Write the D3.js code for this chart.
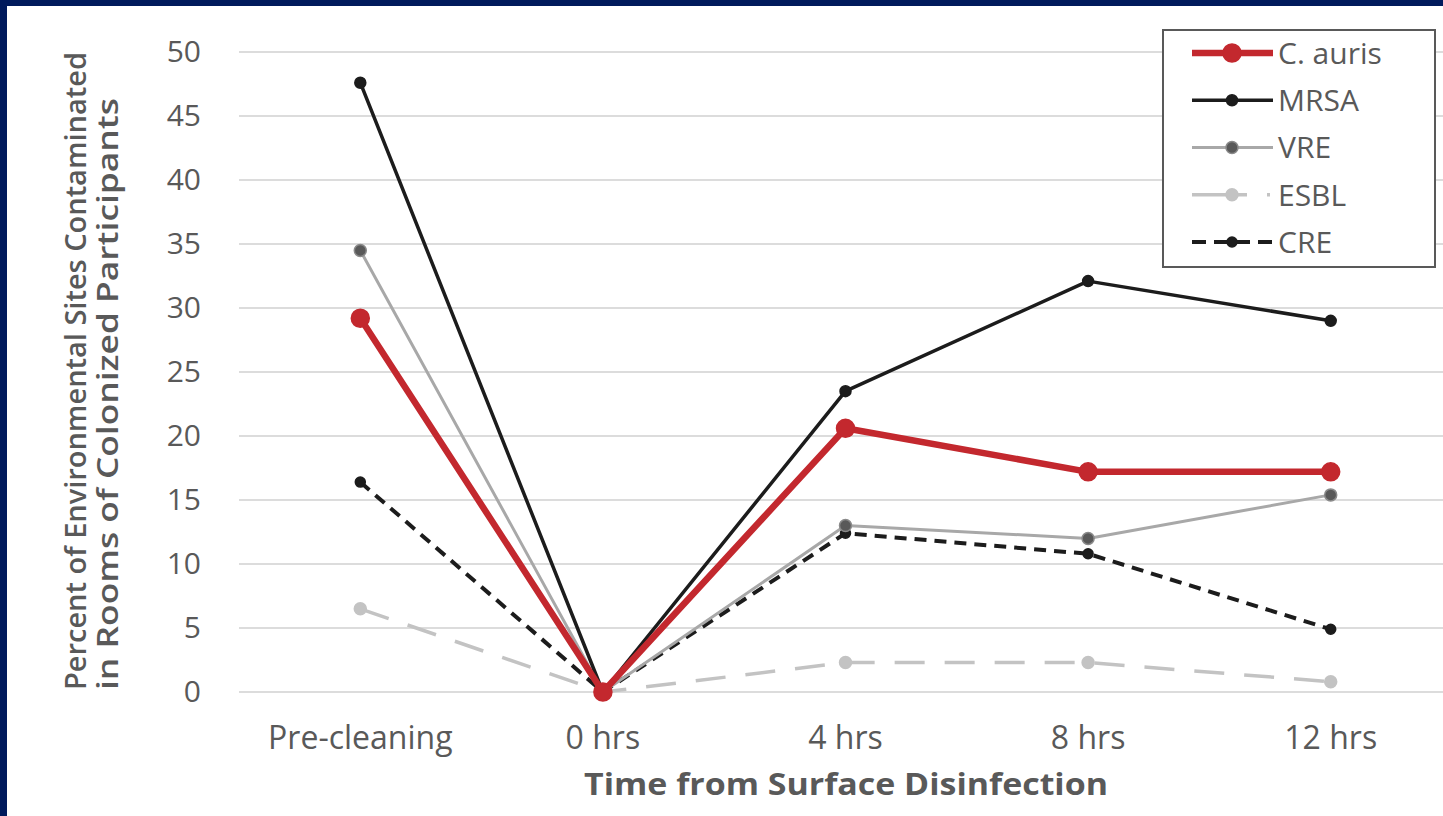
<!DOCTYPE html>
<html>
<head>
    <title>Environmental contamination after disinfection</title>
    <script src="https://d3js.org/d3.v7.min.js"></script>
    <style>
        body { margin: 0; background: #fff; }
        svg { display: block; }
    </style>
</head>
<body>
    <script>
        // data
        const timepoints = ["Pre-cleaning", "0 hrs", "4 hrs", "8 hrs", "12 hrs"];
        const yTicks = [0, 5, 10, 15, 20, 25, 30, 35, 40, 45, 50];
        const seriesNames = ["C. auris", "MRSA", "VRE", "ESBL", "CRE"];
        const cAuris = [29.2, 0, 20.6, 17.2, 17.2];
        const mrsa = [47.6, 0, 23.5, 32.1, 29.0];
        const vre = [34.5, 0, 13.0, 12.0, 15.4];
        const esbl = [6.5, 0, 2.3, 2.3, 0.8];
        const cre = [16.4, 0, 12.4, 10.8, 4.9];

        const W = 1443, H = 816;
        const plot = {left: 239, right: 1452, top: 52, bottom: 692};
        const font = "'Open Sans', 'Noto Sans', sans-serif";

        const styles = {
            "C. auris": {values: cAuris, stroke: "#c3282e", width: 6.5, dash: null, legendDash: null, r: 9, fill: "#c3282e", mstroke: "#c3282e"},
            "MRSA": {values: mrsa, stroke: "#1c1c1c", width: 3.5, dash: null, legendDash: null, r: 5.5, fill: "#1c1c1c", mstroke: "#1c1c1c"},
            "VRE": {values: vre, stroke: "#a8a8a8", width: 3, dash: null, legendDash: null, r: 6, fill: "#595959", mstroke: "#8a8a8a"},
            "ESBL": {values: esbl, stroke: "#c3c3c3", width: 3.5, dash: "30,20", legendDash: "55,20,3,10", r: 6, fill: "#c3c3c3", mstroke: "#c3c3c3"},
            "CRE": {values: cre, stroke: "#1c1c1c", width: 4, dash: "12,8", legendDash: "14,8", r: 5, fill: "#1c1c1c", mstroke: "#1c1c1c"}
        };
        const drawOrder = ["ESBL", "CRE", "VRE", "MRSA", "C. auris"];

        const svg = d3.select("body").append("svg")
            .attr("width", W)
            .attr("height", H);

        svg.append("rect").attr("width", W).attr("height", H).attr("fill", "#fff");

        const x = d3.scaleBand()
            .domain(timepoints)
            .range([plot.left, plot.right])
            .padding(0);
        const cx = d => x(d) + x.bandwidth() / 2;

        const y = d3.scaleLinear()
            .domain([0, 50])
            .range([plot.bottom, plot.top]);

        // gridlines
        svg.append("g")
            .selectAll("line")
            .data(yTicks)
            .join("line")
              .attr("x1", plot.left)
              .attr("x2", W)
              .attr("y1", d => y(d))
              .attr("y2", d => y(d))
              .attr("stroke", "#dcdcdc")
              .attr("stroke-width", 2);

        // y axis labels
        const yAxis = svg.append("g")
            .attr("transform", "translate(201,0)")
            .call(d3.axisLeft(y).tickValues(yTicks).tickSize(0).tickPadding(0));
        yAxis.select(".domain").remove();
        yAxis.selectAll("text")
            .attr("font-family", font)
            .attr("font-size", 30)
            .attr("fill", "#595959");

        // x axis labels
        const xAxis = svg.append("g")
            .attr("transform", `translate(0,${plot.bottom})`)
            .call(d3.axisBottom(x).tickSize(0).tickPadding(0));
        xAxis.select(".domain").remove();
        xAxis.selectAll("text")
            .attr("y", 57)
            .attr("dy", 0)
            .attr("font-family", font)
            .attr("font-size", 32)
            .attr("fill", "#595959");

        // axis titles
        svg.append("text")
            .attr("x", 846)
            .attr("y", 795)
            .attr("text-anchor", "middle")
            .attr("font-family", font)
            .attr("font-weight", "bold")
            .attr("font-size", 31)
            .attr("fill", "#595959")
            .attr("textLength", 524)
            .attr("lengthAdjust", "spacingAndGlyphs")
            .text("Time from Surface Disinfection");

        const yTitle = svg.append("g")
            .attr("font-family", font)
            .attr("font-size", 28)
            .attr("font-weight", 600)
            .attr("fill", "#595959")
            .attr("text-anchor", "middle");
        yTitle.append("text")
            .attr("transform", "translate(86,371) rotate(-90)")
            .attr("textLength", 638)
            .attr("lengthAdjust", "spacingAndGlyphs")
            .text("Percent of Environmental Sites Contaminated");
        yTitle.append("text")
            .attr("transform", "translate(118,394) rotate(-90)")
            .attr("textLength", 592)
            .attr("lengthAdjust", "spacingAndGlyphs")
            .text("in Rooms of  Colonized Participants");

        // series
        const line = d3.line()
            .x((d, i) => cx(timepoints[i]))
            .y(d => y(d));

        drawOrder.forEach(name => {
            const s = styles[name];
            const g = svg.append("g");
            g.append("path")
                .datum(s.values)
                .attr("d", line)
                .attr("fill", "none")
                .attr("stroke", s.stroke)
                .attr("stroke-width", s.width)
                .attr("stroke-dasharray", s.dash)
                .attr("stroke-linejoin", "round");
            g.selectAll("circle")
                .data(s.values)
                .join("circle")
                  .attr("cx", (d, i) => cx(timepoints[i]))
                  .attr("cy", d => y(d))
                  .attr("r", s.r)
                  .attr("fill", s.fill)
                  .attr("stroke", s.mstroke)
                  .attr("stroke-width", 1.5);
        });

        // legend
        const legend = svg.append("g").attr("transform", "translate(1163,30)");
        legend.append("rect")
            .attr("width", 272)
            .attr("height", 237)
            .attr("fill", "#fff")
            .attr("stroke", "#595959")
            .attr("stroke-width", 2);

        const rowY = d3.scalePoint()
            .domain(seriesNames)
            .range([23, 212]);

        seriesNames.forEach(name => {
            const s = styles[name];
            const row = legend.append("g").attr("transform", `translate(0,${rowY(name)})`);
            row.append("line")
                .attr("x1", 29).attr("x2", 110)
                .attr("stroke", s.stroke)
                .attr("stroke-width", s.width)
                .attr("stroke-dasharray", s.legendDash);
            row.append("circle")
                .attr("cx", 69)
                .attr("r", s.r)
                .attr("fill", s.fill)
                .attr("stroke", s.mstroke)
                .attr("stroke-width", 1.5);
            row.append("text")
                .attr("x", 115)
                .attr("dy", "0.36em")
                .attr("font-family", font)
                .attr("font-size", 30)
                .attr("fill", "#595959")
                .text(name);
        });

        // navy frame on top and left edges
        svg.append("rect").attr("x", 0).attr("y", 0).attr("width", W).attr("height", 6).attr("fill", "#001a5c");
        svg.append("rect").attr("x", 0).attr("y", 0).attr("width", 7).attr("height", H).attr("fill", "#001a5c");
    </script>
</body>
</html>
